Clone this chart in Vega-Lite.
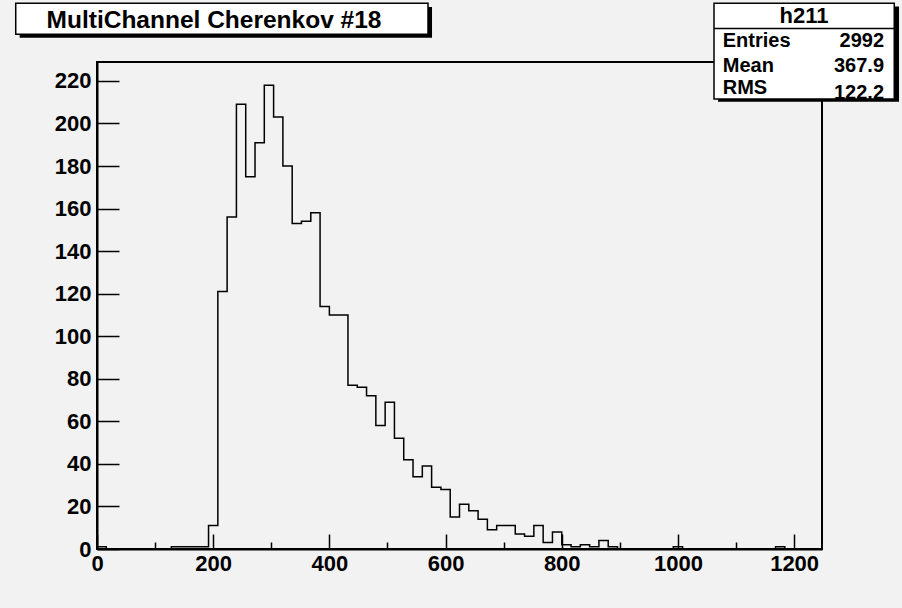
{
  "$schema": "https://vega.github.io/schema/vega-lite/v6.json",
  "width": 725,
  "height": 487,
  "autosize": {"type": "none"},
  "padding": {"left": 97, "top": 62, "right": 80, "bottom": 59},
  "background": "#f2f2f2",
  "config": {
    "font": "Liberation Sans",
    "view": {"stroke": "black", "strokeWidth": 2, "fill": "#f2f2f2"}
  },
  "datasets": {
    "hist": [
      {"bin_lo": 0, "count": 1}, {"bin_lo": 16, "count": 0}, {"bin_lo": 32, "count": 0}, {"bin_lo": 48, "count": 0},
      {"bin_lo": 64, "count": 0}, {"bin_lo": 80, "count": 0}, {"bin_lo": 96, "count": 0}, {"bin_lo": 112, "count": 0},
      {"bin_lo": 128, "count": 1}, {"bin_lo": 144, "count": 1}, {"bin_lo": 160, "count": 1}, {"bin_lo": 176, "count": 1},
      {"bin_lo": 192, "count": 11}, {"bin_lo": 208, "count": 121}, {"bin_lo": 224, "count": 156}, {"bin_lo": 240, "count": 209},
      {"bin_lo": 256, "count": 175}, {"bin_lo": 272, "count": 191}, {"bin_lo": 288, "count": 218}, {"bin_lo": 304, "count": 203},
      {"bin_lo": 320, "count": 180}, {"bin_lo": 336, "count": 153}, {"bin_lo": 352, "count": 154}, {"bin_lo": 368, "count": 158},
      {"bin_lo": 384, "count": 114}, {"bin_lo": 400, "count": 110}, {"bin_lo": 416, "count": 110}, {"bin_lo": 432, "count": 77},
      {"bin_lo": 448, "count": 76}, {"bin_lo": 464, "count": 72}, {"bin_lo": 480, "count": 58}, {"bin_lo": 496, "count": 69},
      {"bin_lo": 512, "count": 52}, {"bin_lo": 528, "count": 42}, {"bin_lo": 544, "count": 34}, {"bin_lo": 560, "count": 39},
      {"bin_lo": 576, "count": 29}, {"bin_lo": 592, "count": 28}, {"bin_lo": 608, "count": 15}, {"bin_lo": 624, "count": 21},
      {"bin_lo": 640, "count": 18}, {"bin_lo": 656, "count": 14}, {"bin_lo": 672, "count": 9}, {"bin_lo": 688, "count": 11},
      {"bin_lo": 704, "count": 11}, {"bin_lo": 720, "count": 7}, {"bin_lo": 736, "count": 6}, {"bin_lo": 752, "count": 11},
      {"bin_lo": 768, "count": 3}, {"bin_lo": 784, "count": 8}, {"bin_lo": 800, "count": 2}, {"bin_lo": 816, "count": 1},
      {"bin_lo": 832, "count": 2}, {"bin_lo": 848, "count": 1}, {"bin_lo": 864, "count": 4}, {"bin_lo": 880, "count": 1},
      {"bin_lo": 896, "count": 0}, {"bin_lo": 912, "count": 0}, {"bin_lo": 928, "count": 0}, {"bin_lo": 944, "count": 0},
      {"bin_lo": 960, "count": 0}, {"bin_lo": 976, "count": 0}, {"bin_lo": 992, "count": 1}, {"bin_lo": 1008, "count": 0},
      {"bin_lo": 1024, "count": 0}, {"bin_lo": 1040, "count": 0}, {"bin_lo": 1056, "count": 0}, {"bin_lo": 1072, "count": 0},
      {"bin_lo": 1088, "count": 0}, {"bin_lo": 1104, "count": 0}, {"bin_lo": 1120, "count": 0}, {"bin_lo": 1136, "count": 0},
      {"bin_lo": 1152, "count": 0}, {"bin_lo": 1168, "count": 1}, {"bin_lo": 1184, "count": 0}, {"bin_lo": 1200, "count": 0},
      {"bin_lo": 1216, "count": 0}, {"bin_lo": 1232, "count": 0}
    ],
    "title": [{"text": "MultiChannel Cherenkov #18"}],
    "statsHead": [{"text": "h211"}],
    "stats": [
      {"key": "Entries", "val": "2992"},
      {"key": "Mean", "val": "367.9"},
      {"key": "RMS", "val": "122.2"}
    ]
  },
  "layer": [
    {
      "data": {"name": "hist"},
      "mark": {"type": "line", "interpolate": "step-after", "color": "black", "strokeWidth": 1.5},
      "encoding": {
        "x": {
          "field": "bin_lo", "type": "quantitative",
          "scale": {"domain": [0, 1248], "nice": false, "zero": false},
          "axis": {
            "title": null, "grid": false,
            "values": [0,50,100,150,200,250,300,350,400,450,500,550,600,650,700,750,800,850,900,950,1000,1050,1100,1150,1200],
            "format": "d",
            "labelExpr": "datum.value % 200 === 0 ? datum.label : ''",
            "tickSize": {"condition": {"test": "datum.value % 200 === 0", "value": -15}, "value": -7},
            "tickColor": "black", "tickWidth": 1.5,
            "domainColor": "black", "domainWidth": 2,
            "labelFont": "Liberation Sans", "labelFontSize": 22, "labelFontWeight": "bold", "labelColor": "black",
            "labelPadding": 19, "labelFlush": false, "labelOverlap": false, "labelBound": false
          }
        },
        "y": {
          "field": "count", "type": "quantitative",
          "scale": {"domain": [0, 228.9], "nice": false},
          "axis": {
            "title": null, "grid": false,
            "values": [0,5,10,15,20,25,30,35,40,45,50,55,60,65,70,75,80,85,90,95,100,105,110,115,120,125,130,135,140,145,150,155,160,165,170,175,180,185,190,195,200,205,210,215,220,225],
            "format": "d",
            "labelExpr": "datum.value % 20 === 0 ? datum.label : ''",
            "tickSize": {"condition": {"test": "datum.value % 20 === 0", "value": -22}, "value": -11},
            "tickColor": "black", "tickWidth": 1.5,
            "domainColor": "black", "domainWidth": 2,
            "labelFont": "Liberation Sans", "labelFontSize": 22, "labelFontWeight": "bold", "labelColor": "black",
            "labelPadding": 28, "labelFlush": false, "labelOverlap": false, "labelBound": false
          }
        }
      }
    },
    {
      "data": {"name": "title"},
      "mark": {"type": "rect", "color": "black"},
      "encoding": {
        "x": {"datum": -133.1, "type": "quantitative"},
        "x2": {"datum": 576.7},
        "y": {"datum": 254.8, "type": "quantitative"},
        "y2": {"datum": 240.3}
      }
    },
    {
      "data": {"name": "title"},
      "mark": {"type": "rect", "fill": "white", "stroke": "black", "strokeWidth": 1.5},
      "encoding": {
        "x": {"datum": -139.9, "type": "quantitative"},
        "x2": {"datum": 569.8},
        "y": {"datum": 256.5, "type": "quantitative"},
        "y2": {"datum": 241.9}
      }
    },
    {
      "data": {"name": "title"},
      "mark": {"type": "text", "align": "center", "baseline": "alphabetic", "font": "Liberation Sans", "fontWeight": "bold", "fontSize": 24.5, "color": "black"},
      "encoding": {
        "x": {"datum": 201.4, "type": "quantitative"},
        "y": {"datum": 244.7, "type": "quantitative"},
        "text": {"field": "text"}
      }
    },
    {
      "data": {"name": "statsHead"},
      "mark": {"type": "rect", "color": "black"},
      "encoding": {
        "x": {"datum": 1069, "type": "quantitative"},
        "x2": {"datum": 1380.6},
        "y": {"datum": 255.0, "type": "quantitative"},
        "y2": {"datum": 210.2}
      }
    },
    {
      "data": {"name": "statsHead"},
      "mark": {"type": "rect", "fill": "white", "stroke": "black", "strokeWidth": 1.5},
      "encoding": {
        "x": {"datum": 1062.1, "type": "quantitative"},
        "x2": {"datum": 1372.4},
        "y": {"datum": 256.5, "type": "quantitative"},
        "y2": {"datum": 211.5}
      }
    },
    {
      "data": {"name": "statsHead"},
      "mark": {"type": "rule", "color": "black", "strokeWidth": 1.5},
      "encoding": {
        "x": {"datum": 1062.1, "type": "quantitative"},
        "x2": {"datum": 1372.4},
        "y": {"datum": 244.7, "type": "quantitative"}
      }
    },
    {
      "data": {"name": "statsHead"},
      "mark": {"type": "text", "align": "center", "baseline": "alphabetic", "font": "Liberation Sans", "fontWeight": "bold", "fontSize": 22, "color": "black"},
      "encoding": {
        "x": {"datum": 1217, "type": "quantitative"},
        "y": {"datum": 247.4, "type": "quantitative"},
        "text": {"field": "text"}
      }
    },
    {
      "data": {"name": "stats"},
      "transform": [{"filter": "datum.key === 'Entries'"}],
      "layer": [
        {
          "mark": {"type": "text", "align": "left", "baseline": "alphabetic", "font": "Liberation Sans", "fontWeight": "bold", "fontSize": 20, "color": "black"},
          "encoding": {"x": {"datum": 1077.1, "type": "quantitative"}, "y": {"datum": 236.1, "type": "quantitative"}, "text": {"field": "key"}}
        },
        {
          "mark": {"type": "text", "align": "right", "baseline": "alphabetic", "font": "Liberation Sans", "fontWeight": "bold", "fontSize": 20, "color": "black"},
          "encoding": {"x": {"datum": 1354.8, "type": "quantitative"}, "y": {"datum": 236.1, "type": "quantitative"}, "text": {"field": "val"}}
        }
      ]
    },
    {
      "data": {"name": "stats"},
      "transform": [{"filter": "datum.key === 'Mean'"}],
      "layer": [
        {
          "mark": {"type": "text", "align": "left", "baseline": "alphabetic", "font": "Liberation Sans", "fontWeight": "bold", "fontSize": 20, "color": "black"},
          "encoding": {"x": {"datum": 1077.1, "type": "quantitative"}, "y": {"datum": 224.3, "type": "quantitative"}, "text": {"field": "key"}}
        },
        {
          "mark": {"type": "text", "align": "right", "baseline": "alphabetic", "font": "Liberation Sans", "fontWeight": "bold", "fontSize": 20, "color": "black"},
          "encoding": {"x": {"datum": 1354.8, "type": "quantitative"}, "y": {"datum": 224.3, "type": "quantitative"}, "text": {"field": "val"}}
        }
      ]
    },
    {
      "data": {"name": "stats"},
      "transform": [{"filter": "datum.key === 'RMS'"}],
      "layer": [
        {
          "mark": {"type": "text", "align": "left", "baseline": "alphabetic", "font": "Liberation Sans", "fontWeight": "bold", "fontSize": 20, "color": "black"},
          "encoding": {"x": {"datum": 1077.1, "type": "quantitative"}, "y": {"datum": 213.7, "type": "quantitative"}, "text": {"field": "key"}}
        },
        {
          "mark": {"type": "text", "align": "right", "baseline": "alphabetic", "font": "Liberation Sans", "fontWeight": "bold", "fontSize": 20, "color": "black"},
          "encoding": {"x": {"datum": 1354.8, "type": "quantitative"}, "y": {"datum": 211.7, "type": "quantitative"}, "text": {"field": "val"}}
        }
      ]
    }
  ]
}
